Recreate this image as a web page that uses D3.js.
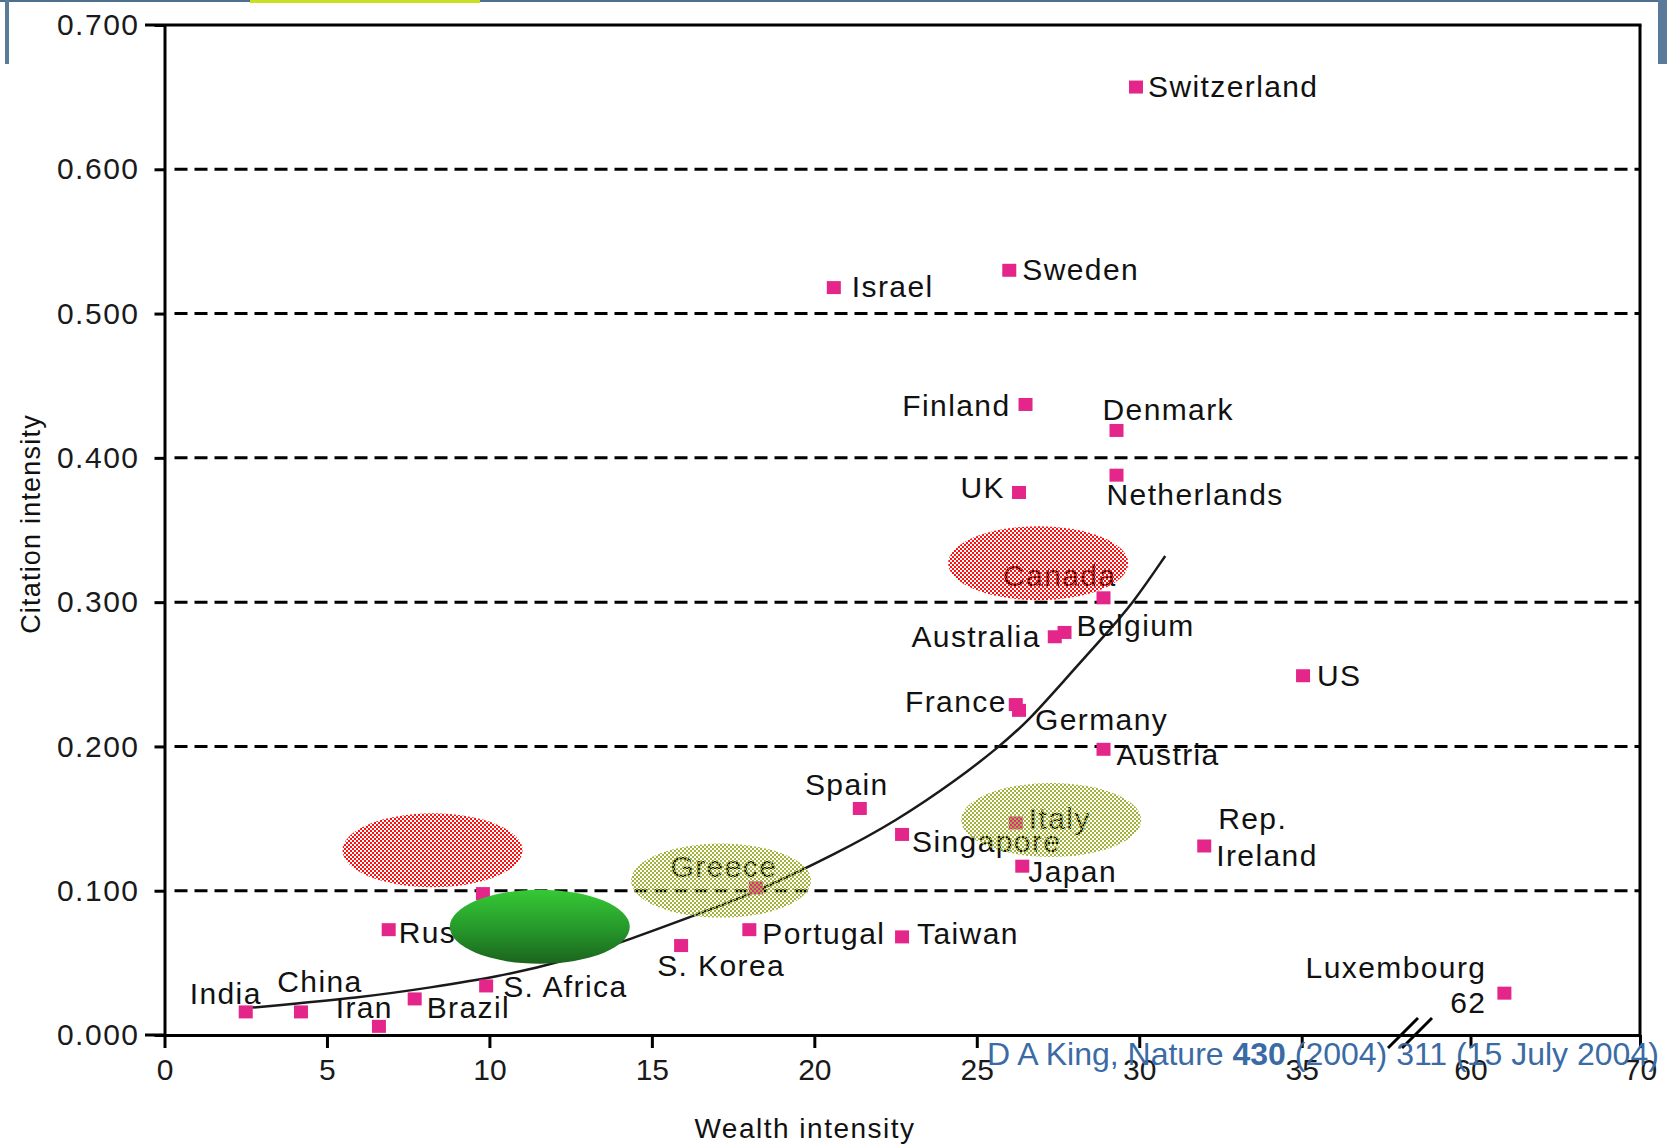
<!DOCTYPE html>
<html>
<head>
<meta charset="utf-8">
<script src="https://cdn.jsdelivr.net/npm/d3@7/dist/d3.min.js"></script>
<style>
  body { margin: 0; background: #fff; }
  text { font-family: "Liberation Sans", Arial, sans-serif; }
</style>
</head>
<body>
<svg id="chart" width="1667" height="1146"></svg>
<script>
// data
let countries = ["Switzerland", "Israel", "Sweden", "Finland", "Denmark", "Netherlands", "UK",
  "Canada", "Belgium", "Australia", "US", "France", "Germany", "Austria", "Spain", "Italy",
  "Singapore", "Japan", "Rep. Ireland", "Greece", "Russia", "", "Portugal", "Taiwan",
  "S. Korea", "Luxembourg", "S. Africa", "Brazil", "Iran", "China", "India"];
let wealth = [29.9, 20.6, 26.0, 26.5, 29.3, 29.3, 26.3,
  28.9, 27.7, 27.4, 35.2, 26.2, 26.3, 28.9, 21.4, 26.2,
  22.7, 26.4, 32.0, 18.2, 6.9, 9.8, 18.0, 22.7,
  15.9, 62.0, 9.9, 7.7, 6.6, 4.2, 2.5];
let citation = [0.657, 0.518, 0.530, 0.437, 0.419, 0.388, 0.376,
  0.303, 0.279, 0.276, 0.249, 0.229, 0.225, 0.198, 0.157, 0.147,
  0.139, 0.117, 0.131, 0.102, 0.073, 0.098, 0.073, 0.068,
  0.062, 0.029, 0.034, 0.025, 0.006, 0.016, 0.016];

// trend line, points
let trendX = [2.7, 6.1, 8.2, 10.2, 12.3, 14.3, 16.8, 18.2, 20.7, 22.5, 24.4, 25.7, 26.6, 27.7, 28.9, 29.8, 30.8];
let trendY = [0.019, 0.026, 0.033, 0.040, 0.051, 0.066, 0.087, 0.099, 0.126, 0.148, 0.177, 0.200, 0.218, 0.246, 0.276, 0.299, 0.332];

// highlight blobs
let blobX = [8.25, 26.89, 17.13, 27.29, 11.55];
let blobY = [0.128, 0.327, 0.107, 0.149, 0.075];
let blobKind = ["red", "red", "olive", "olive", "green"];

let xTicks = [0, 5, 10, 15, 20, 25, 30, 35, 60, 70];
let yTicks = [0, 0.1, 0.2, 0.3, 0.4, 0.5, 0.6, 0.7];

// label placement: [anchor, dx, dy] from marker centre
let labelPos = {
  "Switzerland": ["start", 12, 10], "Israel": ["start", 18, 9], "Sweden": ["start", 13, 10],
  "Finland": ["end", -15, 12], "Denmark": ["start", -14, -10], "Netherlands": ["start", -10, 30],
  "UK": ["end", -14, 6], "Canada": ["end", 13, -12], "Belgium": ["start", 12, 4],
  "Australia": ["end", -14, 10], "US": ["start", 14, 10], "France": ["end", -9, 7],
  "Germany": ["start", 16, 20], "Austria": ["start", 13, 16], "Spain": ["middle", -13, -13],
  "Italy": ["start", 13, 6], "Singapore": ["start", 10, 18], "Japan": ["start", 6, 16],
  "Greece": ["middle", -32, -11], "Russia": ["start", 10, 13], "Portugal": ["start", 13, 14],
  "Taiwan": ["start", 15, 7], "S. Korea": ["middle", 40, 30], "S. Africa": ["start", 17, 11],
  "Brazil": ["start", 12, 19], "Iran": ["end", 14, -8], "China": ["middle", 19, -20],
  "India": ["end", 16, -8]
};

let svg = d3.select("#chart");
let mLeft = 164.5, mRight = 1640, mTop = 25, mBottom = 1035;

// broken x axis: 35 jumps to 60
let x = d3.scaleLinear().domain([0, 35, 60, 70]).range([mLeft, 1301.7, 1470.5, mRight]);
let y = d3.scaleLinear().domain([0, 0.7]).range([mBottom, mTop]);

let defs = svg.append("defs");
function dots(id, color) {
  let p = defs.append("pattern").attr("id", id).attr("width", 4).attr("height", 4)
    .attr("patternUnits", "userSpaceOnUse");
  p.append("rect").attr("width", 2).attr("height", 2).attr("fill", color);
  p.append("rect").attr("x", 2).attr("y", 2).attr("width", 2).attr("height", 2).attr("fill", color);
}
dots("red", "#ff1010");
dots("olive", "#a3b23a");
let grad = defs.append("linearGradient").attr("id", "green").attr("x1", 0).attr("x2", 0).attr("y1", 0).attr("y2", 1);
grad.append("stop").attr("offset", "0%").attr("stop-color", "#36c936");
grad.append("stop").attr("offset", "55%").attr("stop-color", "#25962a");
grad.append("stop").attr("offset", "100%").attr("stop-color", "#1b631d");

// slide frame bits
svg.append("rect").attr("x", 0).attr("y", 0).attr("width", 1667).attr("height", 2).attr("fill", "#4f6f8f");
svg.append("rect").attr("x", 250).attr("y", 0).attr("width", 230).attr("height", 3).attr("fill", "#c8e020");
svg.append("rect").attr("x", 5).attr("y", 0).attr("width", 4).attr("height", 64).attr("fill", "#5a7a9a");
svg.append("rect").attr("x", 1658).attr("y", 0).attr("width", 9).attr("height", 64).attr("fill", "#5a7a9a");

// dashed grid
svg.append("g").selectAll("line")
  .data(yTicks.filter(d => d > 0 && d < 0.7))
  .enter().append("line")
  .attr("x1", mLeft + 10).attr("x2", mRight)
  .attr("y1", d => y(d)).attr("y2", d => y(d))
  .attr("stroke", "#000").attr("stroke-width", 3).attr("stroke-dasharray", "13,7");

// frame top and right
svg.append("line").attr("x1", 145).attr("x2", mRight + 1.5).attr("y1", mTop).attr("y2", mTop)
  .attr("stroke", "#000").attr("stroke-width", 3);
svg.append("line").attr("x1", mRight).attr("x2", mRight).attr("y1", mTop).attr("y2", mBottom)
  .attr("stroke", "#000").attr("stroke-width", 3);

// axes
let yAxis = svg.append("g").attr("transform", `translate(${mLeft},0)`)
  .call(d3.axisLeft(y).tickValues(yTicks).tickFormat(d3.format(".3f")).tickSize(10).tickSizeOuter(0).tickPadding(15));
let xAxis = svg.append("g").attr("transform", `translate(0,${mBottom})`)
  .call(d3.axisBottom(x).tickValues(xTicks).tickFormat(d => d).tickSize(13).tickSizeOuter(0).tickPadding(10));
[yAxis, xAxis].forEach(a => {
  a.selectAll("path, line").attr("stroke", "#000").attr("stroke-width", 3);
  a.selectAll("text").attr("fill", "#1a1a1a").style("font-size", "30px")
    .style("font-family", "'Liberation Sans', Arial, sans-serif");
});
yAxis.selectAll("text").style("letter-spacing", "1.5px").attr("dy", "0.32em");
xAxis.selectAll("text").attr("dy", "0.72em");
svg.append("line").attr("x1", 145).attr("x2", mLeft).attr("y1", mBottom).attr("y2", mBottom)
  .attr("stroke", "#000").attr("stroke-width", 3);

// break marks between 35 and 60
let bx = x(35) + 0.6 * (x(60) - x(35));
[0, 14].forEach(off => {
  svg.append("line").attr("x1", bx + off - 15).attr("y1", mBottom + 13)
    .attr("x2", bx + off + 15).attr("y2", mBottom - 17)
    .attr("stroke", "#000").attr("stroke-width", 3);
});

// trend curve
let trend = trendX.map((d, i) => [d, trendY[i]]);
svg.append("path").datum(trend)
  .attr("d", d3.line().x(d => x(d[0])).y(d => y(d[1])).curve(d3.curveBasis))
  .attr("fill", "none").attr("stroke", "#1a1a1a").attr("stroke-width", 2.5);

// markers
let pts = countries.map((c, i) => ({ name: c, wx: wealth[i], cy: citation[i] }));
svg.append("g").selectAll("rect").data(pts).enter().append("rect")
  .attr("x", d => x(d.wx) - 7).attr("y", d => y(d.cy) - 6.5)
  .attr("width", 14).attr("height", 13).attr("fill", "#e4268a");

// labels
let lab = svg.append("g").style("font-size", "30px").style("letter-spacing", "1.4px").attr("fill", "#111");
pts.filter(d => labelPos[d.name]).forEach(d => {
  let p = labelPos[d.name];
  lab.append("text").attr("x", x(d.wx) + p[1]).attr("y", y(d.cy) + p[2])
    .attr("text-anchor", p[0]).text(d.name);
});
let ire = pts.find(d => d.name === "Rep. Ireland");
lab.append("text").attr("x", x(ire.wx) + 14).attr("y", y(ire.cy) - 17).text("Rep.");
lab.append("text").attr("x", x(ire.wx) + 12).attr("y", y(ire.cy) + 20).text("Ireland");
let lux = pts.find(d => d.name === "Luxembourg");
lab.append("text").attr("x", x(lux.wx) - 18).attr("y", y(lux.cy) - 15).attr("text-anchor", "end").text("Luxembourg");
lab.append("text").attr("x", x(lux.wx) - 18).attr("y", y(lux.cy) + 20).attr("text-anchor", "end").text("62");

// blobs on top
svg.append("g").selectAll("ellipse").data(blobX.map((d, i) => [d, blobY[i], blobKind[i]]))
  .enter().append("ellipse")
  .attr("cx", d => x(d[0])).attr("cy", d => y(d[1]))
  .attr("rx", 90).attr("ry", 37)
  .attr("fill", d => `url(#${d[2]})`);

// axis titles
svg.append("text").attr("x", 805).attr("y", 1138).attr("text-anchor", "middle")
  .style("font-size", "28px").style("letter-spacing", "1.5px").attr("fill", "#111").text("Wealth intensity");
svg.append("text").attr("transform", "translate(40,524) rotate(-90)").attr("text-anchor", "middle")
  .style("font-size", "27px").style("letter-spacing", "1.2px").attr("fill", "#111").text("Citation intensity");

// source
let src = svg.append("text").attr("x", 987).attr("y", 1065).style("font-size", "32px").attr("fill", "#3b6ba5");
src.append("tspan").text("D A King, Nature ");
src.append("tspan").style("font-weight", "bold").text("430");
src.append("tspan").text(" (2004) 311 (15 July 2004)");
</script>
</body>
</html>
